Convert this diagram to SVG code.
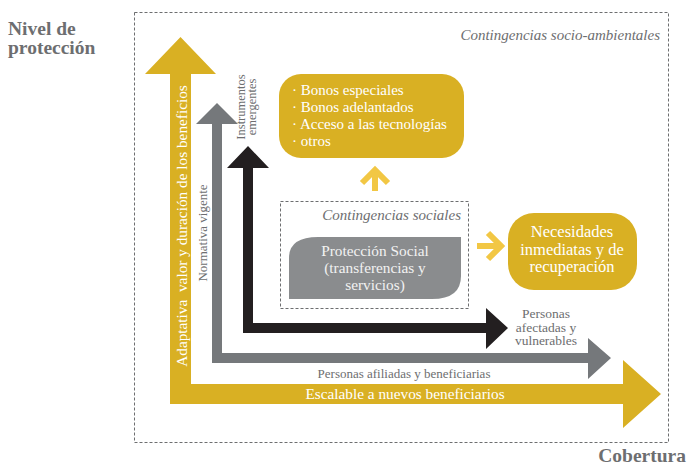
<svg xmlns="http://www.w3.org/2000/svg" width="690" height="465" viewBox="0 0 690 465">
<style>
.t{font-family:'Liberation Serif',serif}
.axis{font-weight:bold;font-size:19.5px;fill:#6d6e70}
.dash{fill:none;stroke:#6d6e70;stroke-width:1;stroke-dasharray:3 2}
.ital{font-style:italic;font-size:15px;fill:#6d6e70}
.wt{fill:#ffffff}
.gt{fill:#6d6e70}
.gold{fill:#d9b023}
.chev{fill:none;stroke:#f2c744;stroke-width:6;stroke-linejoin:miter}
</style>
<rect width="690" height="465" fill="#ffffff"/>

<g id="axis-y"><text class="t axis" x="8" y="35">Nivel de</text><text class="t axis" x="8" y="54">protección</text></g>
<g id="axis-x"><text class="t axis" x="686" y="462" text-anchor="end">Cobertura</text></g>

<g id="socio-ambientales">
<rect class="dash" x="134.5" y="12.5" width="534" height="430"/>
<text class="t ital" x="660" y="40" text-anchor="end">Contingencias socio-ambientales</text>
</g>

<g id="connectors">
<polygon id="arrow-gold" class="gold" points="170,404 170,74 145,74 180.5,37 216,74 191,74 191,384 623,384 623,360 661,394 623,428 623,404"/>
<polygon id="arrow-gray" fill="#75787b" points="212,363 212,124 196,124 217,103 238,124 222,124 222,353 588,353 588,338 611,358 588,379 588,363"/>
<polygon id="arrow-black" fill="#231f20" points="243,333 243,168 227,168 248,146 269,168 253,168 253,323 486,323 486,308 508,328 486,349 486,333"/>
<path id="chev-up" class="chev" d="M362,183 L375,170 L388,183 M375,171 V191"/>
<path id="chev-right" class="chev" d="M488,233 L501,246 L488,259 M477,246 H500"/>
</g>

<g id="label-escalable"><text class="t wt" x="405" y="399" font-size="15.3" text-anchor="middle">Escalable a nuevos beneficiarios</text></g>
<g id="label-adaptativa"><text class="t wt" font-size="15.3" text-anchor="middle" transform="translate(187,226) rotate(-90)" xml:space="preserve">Adaptativa  valor y duración de los beneficios</text></g>
<g id="label-normativa"><text class="t gt" font-size="13" text-anchor="middle" transform="translate(207,233) rotate(-90)">Normativa vigente</text></g>
<g id="label-instrumentos"><text class="t gt" font-size="12.5" text-anchor="middle" transform="translate(245,107) rotate(-90)"><tspan x="0" y="0">Instrumentos</tspan><tspan x="0" y="11">emergentes</tspan></text></g>
<g id="label-afiliadas"><text class="t gt" x="404" y="378" font-size="13" text-anchor="middle">Personas afiliadas y beneficiarias</text></g>
<g id="label-afectadas"><text class="t gt" font-size="13.5" text-anchor="middle"><tspan x="546" y="318">Personas</tspan><tspan x="546" y="331.5">afectadas y</tspan><tspan x="546" y="345">vulnerables</tspan></text></g>

<g id="bonos">
<rect class="gold" x="279" y="74" width="185" height="84" rx="22"/>
<text class="t wt" font-size="15"><tspan x="292" y="95">· Bonos especiales</tspan><tspan x="292" y="112">· Bonos adelantados</tspan><tspan x="292" y="129">· Acceso a las tecnologías</tspan><tspan x="292" y="146">· otros</tspan></text>
</g>

<g id="contingencias-sociales">
<rect class="dash" x="280.5" y="201.5" width="188" height="107"/>
<text class="t ital" x="461" y="220" text-anchor="end">Contingencias sociales</text>
</g>

<g id="proteccion-social">
<path fill="#8a8c8e" d="M289,299 V258 Q289,237 318,237 H461 V276 Q461,299 432,299 Z"/>
<text class="t" fill="#f2f2f2" font-size="15.3" text-anchor="middle"><tspan x="375" y="256">Protección Social</tspan><tspan x="375" y="273">(transferencias y</tspan><tspan x="375" y="290">servicios)</tspan></text>
</g>

<g id="necesidades">
<rect class="gold" x="508" y="213" width="129" height="77" rx="26"/>
<text class="t wt" font-size="16.5" text-anchor="middle"><tspan x="572" y="237">Necesidades</tspan><tspan x="572" y="254.5">inmediatas y de</tspan><tspan x="572" y="272">recuperación</tspan></text>
</g>
</svg>
